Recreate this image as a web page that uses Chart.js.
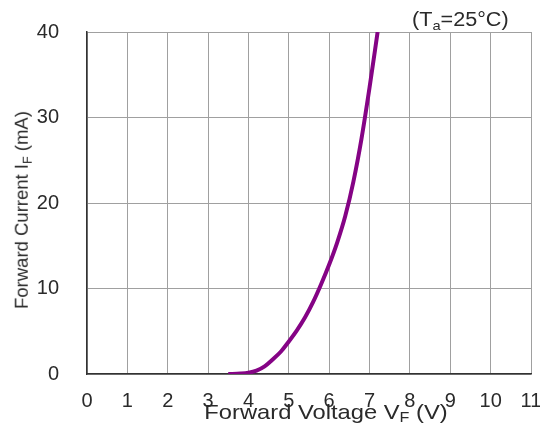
<!DOCTYPE html>
<html>
<head>
<meta charset="utf-8">
<script src="https://cdn.jsdelivr.net/npm/chart.js@4"></script>
<style>
  html,body{margin:0;padding:0;background:#fff;}
  #wrap{position:relative;width:540px;height:430px;}
  canvas{position:absolute;left:0;top:0;}
  .lbl{position:absolute;font-family:"Liberation Sans",Arial,sans-serif;color:#2a2a2a;white-space:nowrap;line-height:1;}
  .lbl sub{vertical-align:-0.28em;line-height:0;font-size:0.68em;}
</style>
</head>
<body>
<div id="wrap">
  <canvas id="c" width="540" height="430"></canvas>
  <div class="lbl" id="xt" style="left:326px;top:411px;font-size:21px;transform:translate(-50%,-50%) scaleX(1.13);">Forward Voltage V<sub>F</sub> (V)</div>
  <div class="lbl" id="yt" style="left:22px;top:210px;font-size:18.5px;transform:translate(-50%,-50%) rotate(-90deg);">Forward Current I<sub>F</sub> (mA)</div>
  <div class="lbl" id="tt" style="left:412px;top:9px;font-size:20px;transform-origin:0 50%;transform:scaleX(1.08);">(T<sub>a</sub>=25°C)</div>
</div>
<script>
const voltage = [3.5, 3.8, 4.0, 4.2, 4.4, 4.6, 4.8, 5.0, 5.2, 5.4, 5.6, 5.8, 6.0, 6.2, 6.4, 6.6, 6.8, 7.0, 7.2];
const current = [0, 0.05, 0.15, 0.4, 0.9, 1.7, 2.6, 3.8, 5.1, 6.6, 8.4, 10.5, 12.8, 15.4, 18.5, 22.5, 27.5, 33.5, 40];
const xTicks = [0,1,2,3,4,5,6,7,8,9,10,11];
const yTicks = [0,10,20,30,40];

const pts = voltage.map((v,i)=>({x:v,y:current[i]}));
const tickFont = {family:'"Liberation Sans", Arial, sans-serif', size:20};

new Chart(document.getElementById('c'), {
  type:'scatter',
  data:{datasets:[{
    data:pts, showLine:true, borderColor:'#850385', borderWidth:4,
    pointRadius:0, tension:0.4, cubicInterpolationMode:'monotone', fill:false
  }]},
  options:{
    responsive:false, animation:false,
    layout:{padding:{top:32,right:9,left:0,bottom:0}},
    plugins:{legend:{display:false},tooltip:{enabled:false}},
    scales:{
      x:{type:'linear',min:0,max:11,
        afterBuildTicks:s=>{s.ticks=xTicks.map(v=>({value:v}));},
        afterFit:s=>{s.height=56;s.paddingLeft=0;s.paddingRight=0;},
        grid:{color:'#a0a0a0',lineWidth:1,drawTicks:false},
        border:{color:'#333',width:1.5},
        ticks:{font:tickFont,color:'#2a2a2a',padding:15,maxRotation:0,autoSkip:false}
      },
      y:{type:'linear',min:0,max:40,
        afterBuildTicks:s=>{s.ticks=yTicks.map(v=>({value:v}));},
        afterFit:s=>{s.width=87;s.paddingTop=0;s.paddingBottom=0;},
        grid:{color:'#a0a0a0',lineWidth:1,drawTicks:false},
        border:{color:'#333',width:1.5},
        ticks:{font:tickFont,color:'#2a2a2a',padding:28,autoSkip:false}
      }
    }
  }
});
</script>
</body>
</html>
